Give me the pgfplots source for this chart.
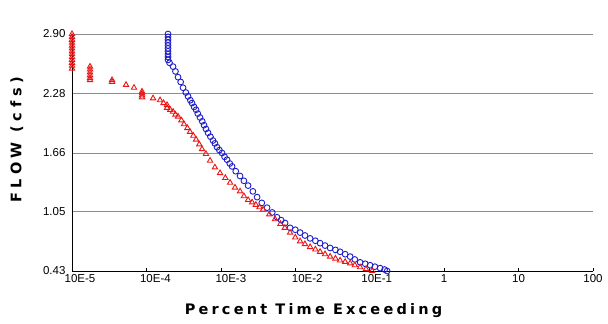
\documentclass[border=0pt]{standalone}
\usepackage{fontspec}
\setmainfont{Liberation Sans}
\newfontfamily\labfontA{DejaVu Sans}[LetterSpace=22]
\newfontfamily\labfontB{DejaVu Sans}[LetterSpace=32]
\usepackage{pgfplots}
\pgfplotsset{compat=1.18}
\definecolor{gridgray}{RGB}{140,140,140}
\definecolor{myblue}{RGB}{30,30,200}
\definecolor{myred}{RGB}{235,20,20}
\begin{document}
\begin{tikzpicture}
\useasboundingbox (0,0) rectangle (608pt,324pt);
\begin{axis}[
  at={(72pt,53pt)}, anchor=south west,
  scale only axis, width=521pt, height=237pt,
  xmin=-5, xmax=2, ymin=0.43, ymax=2.90,
  axis lines*=left,
  axis line style={black, line width=0.8pt},
  xtick={-5,-4,-3,-2,-1,0,1,2},
  xticklabels={\hspace*{16pt}10E-5,\hspace*{18pt}10E-4,\hspace*{20pt}10E-3,\hspace*{24pt}10E-2,\hspace*{14pt}10E-1,1,10,100},
  ytick={0.43,1.05,1.66,2.28,2.90},
  yticklabels={0.43,1.05,1.66,2.28,2.90},
  ymajorgrids, grid style={gridgray, line width=0.8pt},
  x tick style={black, line width=0.6pt},
  major tick length=3pt,
  xtick align=inside,
  y tick style={draw=none},
  tick label style={font=\fontsize{11.5}{12}\selectfont},
  yticklabel style={xshift=-3pt},
  /pgf/number format/assume math mode=true,
  clip=false,
]
\addplot[only marks, mark=o, mark size=2.9pt, myblue, mark options={line width=0.9pt}] coordinates {
(-3.710,2.90)(-3.710,2.87)(-3.710,2.84)(-3.710,2.81)(-3.710,2.78)(-3.710,2.75)(-3.710,2.72)(-3.710,2.69)(-3.710,2.66)(-3.710,2.63)
(-3.69,2.60)(-3.642,2.56)(-3.61,2.51)(-3.575,2.45)(-3.54,2.40)(-3.508,2.34)(-3.47,2.29)(-3.441,2.25)(-3.41,2.21)(-3.387,2.18)
(-3.36,2.14)(-3.333,2.11)(-3.31,2.07)(-3.280,2.03)(-3.25,1.99)(-3.226,1.95)(-3.20,1.91)(-3.172,1.87)(-3.14,1.83)(-3.105,1.79)
(-3.08,1.76)(-3.051,1.72)(-3.02,1.69)(-2.984,1.66)(-2.95,1.62)(-2.917,1.59)(-2.88,1.55)(-2.849,1.52)(-2.80,1.47)(-2.742,1.42)
(-2.69,1.37)(-2.634,1.32)(-2.57,1.26)(-2.513,1.20)(-2.45,1.14)(-2.379,1.09)(-2.31,1.04)(-2.245,0.99)(-2.19,0.96)(-2.137,0.93)
(-2.070,0.88)(-2.00,0.86)(-1.935,0.83)(-1.87,0.80)(-1.801,0.77)(-1.73,0.745)(-1.667,0.72)(-1.60,0.695)(-1.532,0.67)(-1.46,0.65)
(-1.398,0.63)(-1.33,0.605)(-1.263,0.58)(-1.20,0.55)(-1.129,0.52)(-1.06,0.505)(-0.995,0.49)(-0.93,0.475)(-0.860,0.46)(-0.80,0.445)(-0.766,0.43)
};
\addplot[only marks, mark=triangle, mark size=3.1pt, myred, mark options={line width=0.9pt}] coordinates {
(-5,2.90)(-5,2.87)(-5,2.84)(-5,2.81)(-5,2.78)(-5,2.75)(-5,2.72)(-5,2.69)(-5,2.66)(-5,2.63)(-5,2.60)(-5,2.57)(-5,2.54)
(-4.758,2.56)(-4.758,2.53)(-4.758,2.50)(-4.758,2.47)(-4.758,2.44)(-4.758,2.42)
(-4.462,2.40)(-4.462,2.42)(-4.274,2.37)(-4.167,2.34)(-4.059,2.30)(-4.059,2.28)(-4.059,2.26)(-4.059,2.24)
(-3.911,2.23)(-3.817,2.21)(-3.77,2.18)(-3.723,2.16)(-3.723,2.13)(-3.68,2.11)(-3.642,2.09)(-3.61,2.06)(-3.575,2.04)(-3.53,2.00)
(-3.495,1.96)(-3.45,1.92)(-3.414,1.88)(-3.37,1.84)(-3.333,1.80)(-3.29,1.75)(-3.253,1.70)(-3.20,1.65)(-3.145,1.58)(-3.08,1.51)
(-3.011,1.45)(-2.94,1.40)(-2.876,1.35)(-2.81,1.30)(-2.742,1.26)(-2.69,1.21)(-2.634,1.17)(-2.58,1.145)(-2.53,1.12)(-2.48,1.095)(-2.433,1.07)
(-2.35,1.02)(-2.272,0.97)(-2.20,0.92)(-2.14,0.88)(-2.070,0.83)(-2.00,0.78)(-1.935,0.74)(-1.87,0.71)(-1.801,0.68)(-1.73,0.655)
(-1.667,0.63)(-1.60,0.605)(-1.532,0.58)(-1.46,0.56)(-1.398,0.54)(-1.33,0.525)(-1.263,0.51)(-1.20,0.49)(-1.129,0.47)(-1.05,0.45)(-0.968,0.43)
};
\node[rotate=90, font=\labfontB\bfseries\fontsize{14.5}{15}\selectfont] at (axis description cs:-0.106,0.553) {FLOW (cfs)};
\node[font=\labfontA\bfseries\fontsize{14.5}{15}\selectfont] at (axis description cs:0.4635,-0.165) {Percent Time Exceeding};
\end{axis}
\end{tikzpicture}
\end{document}
